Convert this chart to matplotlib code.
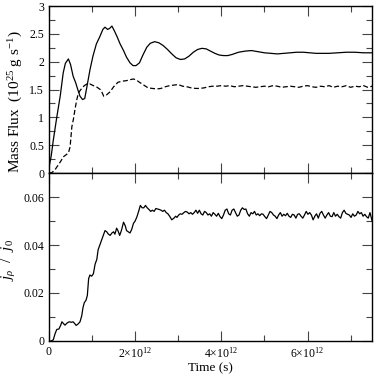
import matplotlib

matplotlib.use("Agg")
import matplotlib.pyplot as plt
from matplotlib.ticker import MultipleLocator, FuncFormatter
import numpy as np

plt.rcParams["font.family"] = ["Liberation Serif", "DejaVu Serif"]
plt.rcParams["mathtext.fontset"] = "custom"
plt.rcParams["mathtext.rm"] = "Liberation Serif"
plt.rcParams["mathtext.it"] = "Liberation Serif:italic"

# time axis in units of 1e12 s
flux_t = [0.0, 0.05, 0.1, 0.18, 0.26, 0.33, 0.38, 0.45, 0.5, 0.56, 0.62, 0.66, 0.72, 0.78,
          0.83, 0.88, 0.95, 1.02, 1.1, 1.18, 1.25, 1.3, 1.36, 1.41, 1.46, 1.52, 1.58, 1.65,
          1.73, 1.8, 1.88, 1.95, 2.02, 2.1, 2.18, 2.27, 2.35, 2.45, 2.55, 2.65, 2.75, 2.85,
          2.95, 3.05, 3.15, 3.25, 3.35, 3.45, 3.55, 3.65, 3.75, 3.85, 3.95, 4.05, 4.15, 4.25,
          4.4, 4.55, 4.7, 4.85, 5.0, 5.15, 5.3, 5.45, 5.6, 5.75, 5.9, 6.05, 6.2, 6.35, 6.5,
          6.7, 6.9, 7.1, 7.3, 7.5]
flux_total = [0.1, 0.3, 0.59, 1.0, 1.38, 1.8, 1.97, 2.05, 1.95, 1.74, 1.62, 1.52, 1.38, 1.32,
              1.34, 1.55, 1.85, 2.1, 2.32, 2.45, 2.58, 2.62, 2.58, 2.6, 2.64, 2.55, 2.45, 2.32,
              2.2, 2.08, 1.98, 1.93, 1.93, 1.98, 2.12, 2.26, 2.33, 2.36, 2.34, 2.29, 2.22, 2.14,
              2.07, 2.04, 2.05, 2.1, 2.17, 2.22, 2.24, 2.23, 2.19, 2.15, 2.12, 2.11, 2.11, 2.13,
              2.17, 2.19, 2.2, 2.18, 2.16, 2.15, 2.14, 2.15, 2.16, 2.17, 2.17, 2.16, 2.15, 2.15,
              2.15, 2.16, 2.17, 2.17, 2.16, 2.16]

dash_t = [0.0, 0.07, 0.14, 0.21, 0.28, 0.33, 0.4, 0.45, 0.49, 0.53, 0.57, 0.6, 0.64, 0.68,
          0.72, 0.76, 0.82, 0.88, 0.95, 1.03, 1.1, 1.19, 1.23, 1.27, 1.33, 1.42, 1.5, 1.6,
          1.7, 1.8, 1.9, 1.96, 2.03, 2.1, 2.2, 2.3, 2.4, 2.5, 2.6, 2.7, 2.8, 2.9, 3.0, 3.1,
          3.2, 3.3, 3.4, 3.5, 3.6, 3.7, 3.8, 3.9, 4.0, 4.1, 4.2, 4.3, 4.4, 4.5, 4.6, 4.7,
          4.8, 4.9, 5.0, 5.1, 5.2, 5.3, 5.4, 5.5, 5.6, 5.7, 5.8, 5.9, 6.0, 6.1, 6.2, 6.3,
          6.4, 6.5, 6.6, 6.7, 6.8, 6.9, 7.0, 7.1, 7.2, 7.3, 7.4, 7.5]
flux_dash = [0.0, 0.01, 0.06, 0.14, 0.22, 0.29, 0.33, 0.36, 0.47, 0.83, 0.98, 1.13, 1.3, 1.43,
             1.48, 1.52, 1.57, 1.6, 1.6, 1.57, 1.55, 1.5, 1.45, 1.38, 1.4, 1.46, 1.55, 1.63,
             1.65, 1.66, 1.68, 1.69, 1.67, 1.63, 1.58, 1.53, 1.52, 1.51, 1.52, 1.55, 1.57, 1.58,
             1.59, 1.56, 1.55, 1.53, 1.52, 1.52, 1.53, 1.55, 1.56, 1.56, 1.57, 1.56, 1.57, 1.55,
             1.56, 1.57, 1.56, 1.55, 1.54, 1.55, 1.56, 1.55, 1.57, 1.56, 1.54, 1.55, 1.56, 1.55,
             1.54, 1.56, 1.57, 1.55, 1.54, 1.56, 1.55, 1.57, 1.54, 1.56, 1.55, 1.57, 1.54, 1.56,
             1.55, 1.57, 1.54, 1.56]

ratio_t = [0.0, 0.05, 0.1, 0.14, 0.18, 0.23, 0.27, 0.3, 0.34, 0.37, 0.42, 0.47, 0.52, 0.56,
           0.6, 0.63, 0.67, 0.72, 0.76, 0.79, 0.82, 0.86, 0.89, 0.92, 0.95, 0.99, 1.03, 1.07,
           1.11, 1.14, 1.18, 1.22, 1.26, 1.3, 1.34, 1.38, 1.42, 1.46, 1.5, 1.53, 1.57, 1.6,
           1.64, 1.68, 1.73, 1.77, 1.8, 1.84, 1.88, 1.92, 1.96, 2.0, 2.04, 2.08, 2.12, 2.16,
           2.2, 2.24, 2.28, 2.32, 2.36, 2.4, 2.44, 2.48, 2.52, 2.56, 2.6, 2.64, 2.68, 2.72,
           2.76, 2.8, 2.85, 2.9, 2.94, 2.97, 3.01, 3.05, 3.09, 3.13, 3.17, 3.21, 3.25, 3.29,
           3.33, 3.37, 3.41, 3.45, 3.49, 3.53, 3.57, 3.61, 3.65, 3.69, 3.73, 3.77, 3.81, 3.85,
           3.89, 3.93, 3.97, 4.01, 4.05, 4.09, 4.13, 4.17, 4.21, 4.25, 4.29, 4.33, 4.37, 4.41,
           4.45, 4.49, 4.53, 4.57, 4.61, 4.65, 4.69, 4.73, 4.77, 4.81, 4.85, 4.89, 4.93, 4.97,
           5.01, 5.05, 5.09, 5.13, 5.17, 5.21, 5.25, 5.29, 5.33, 5.37, 5.41, 5.45, 5.49, 5.53,
           5.57, 5.61, 5.65, 5.69, 5.73, 5.77, 5.81, 5.85, 5.89, 5.93, 5.97, 6.01, 6.05, 6.09,
           6.13, 6.17, 6.21, 6.25, 6.29, 6.33, 6.37, 6.41, 6.45, 6.49, 6.53, 6.57, 6.61, 6.65,
           6.69, 6.73, 6.77, 6.81, 6.85, 6.89, 6.93, 6.97, 7.01, 7.05, 7.09, 7.13, 7.17, 7.21,
           7.25, 7.29, 7.33, 7.37, 7.41, 7.45, 7.5]
ratio = [0.0, 0.0, 0.0005, 0.003, 0.0048, 0.005, 0.0065, 0.008, 0.0072, 0.0066, 0.0075, 0.008,
         0.0078, 0.008, 0.0072, 0.0065, 0.007, 0.008, 0.0105, 0.014, 0.016, 0.017, 0.019, 0.026,
         0.0275, 0.027, 0.028, 0.032, 0.034, 0.038, 0.040, 0.042, 0.044, 0.046, 0.0455, 0.0445,
         0.044, 0.045, 0.0455, 0.0445, 0.047, 0.046, 0.044, 0.046, 0.0495, 0.048, 0.046, 0.0455,
         0.045, 0.0465, 0.049, 0.050, 0.0517, 0.054, 0.0565, 0.0555, 0.0555, 0.0565, 0.0555,
         0.0548, 0.054, 0.0545, 0.054, 0.0552, 0.055, 0.0548, 0.0545, 0.054, 0.0545, 0.0535,
         0.053, 0.052, 0.0505, 0.0512, 0.052, 0.0515, 0.0525, 0.053, 0.0528, 0.0535, 0.054,
         0.0537, 0.053, 0.0535, 0.0528, 0.0535, 0.0545, 0.0532, 0.0545, 0.053, 0.0525, 0.054,
         0.0535, 0.0525, 0.053, 0.052, 0.0535, 0.0528, 0.052, 0.0532, 0.0518, 0.051, 0.0525,
         0.0545, 0.055, 0.053, 0.0525, 0.0545, 0.055, 0.0535, 0.052, 0.0525, 0.0545, 0.0555,
         0.0548, 0.055, 0.053, 0.052, 0.0535, 0.053, 0.054, 0.0525, 0.053, 0.0522, 0.053,
         0.0528, 0.0518, 0.051, 0.0525, 0.054, 0.0535, 0.0525, 0.052, 0.051, 0.0525, 0.0535,
         0.052, 0.0528, 0.0522, 0.0532, 0.052, 0.0515, 0.0528, 0.0525, 0.0512, 0.0528, 0.053,
         0.052, 0.0512, 0.0525, 0.054, 0.0528, 0.0535, 0.0525, 0.0505, 0.052, 0.053, 0.0512,
         0.0532, 0.054, 0.0525, 0.0512, 0.0525, 0.0535, 0.052, 0.0518, 0.0535, 0.052, 0.0528,
         0.0518, 0.0512, 0.0535, 0.0545, 0.0532, 0.0528, 0.0525, 0.0515, 0.053, 0.052, 0.0525,
         0.054, 0.053, 0.0535, 0.052, 0.0528, 0.0518, 0.0512, 0.0535, 0.05]

SCALE = 1e12
FS = 8.5


def style_axis(ax):
    ax.tick_params(which="both", direction="in", top=True, right=True, labelsize=FS,
                   width=0.8, color="#444444")
    ax.tick_params(which="major", length=7)
    ax.tick_params(which="minor", length=4.5)
    for sp in ax.spines.values():
        sp.set_linewidth(1.0)
    ax.xaxis.set_major_locator(MultipleLocator(2 * SCALE))
    ax.xaxis.set_minor_locator(MultipleLocator(1 * SCALE))
    ax.set_xlim(0, 7.5 * SCALE)


def time_label(v, pos):
    n = int(round(v / SCALE))
    if n == 0:
        return "0"
    return r"%d$\times$10$^{12}$" % n


fig = plt.figure(figsize=(3.74, 3.77), dpi=100)
ax1 = fig.add_axes([0.131, 0.541, 0.864, 0.443])
ax2 = fig.add_axes([0.131, 0.0955, 0.864, 0.4456])

ax1.plot(np.array(flux_t) * SCALE, flux_total, color="black", lw=0.9)
ax1.plot(np.array(dash_t) * SCALE, flux_dash, color="black", lw=0.9, ls=(0, (4, 2)))
style_axis(ax1)
ax1.set_ylim(0, 3)
ax1.yaxis.set_major_locator(MultipleLocator(0.5))
ax1.yaxis.set_minor_locator(MultipleLocator(0.25))
ax1.yaxis.set_major_formatter(FuncFormatter(lambda v, p: "%g" % v))
ax1.tick_params(labelbottom=False)
ax1.set_ylabel(r"Mass Flux  (10$^{25}$ g s$^{-1}$)", fontsize=11)
ax1.yaxis.set_label_coords(-0.074, 0.43)

ax2.plot(np.array(ratio_t) * SCALE, ratio, color="black", lw=0.9)
style_axis(ax2)
ax2.set_ylim(0, 0.07)
ax2.yaxis.set_major_locator(MultipleLocator(0.02))
ax2.yaxis.set_minor_locator(MultipleLocator(0.01))
ax2.yaxis.set_major_formatter(FuncFormatter(lambda v, p: "%g" % round(v, 3)))
ax2.xaxis.set_major_formatter(FuncFormatter(time_label))
ax2.set_ylabel(r"$j_\rho$  /  $j_0$", fontsize=11)
ax2.yaxis.set_label_coords(-0.095, 0.48)
ax2.set_xlabel("Time (s)", fontsize=9.5, labelpad=1)

fig.savefig("out.png", dpi=100)
